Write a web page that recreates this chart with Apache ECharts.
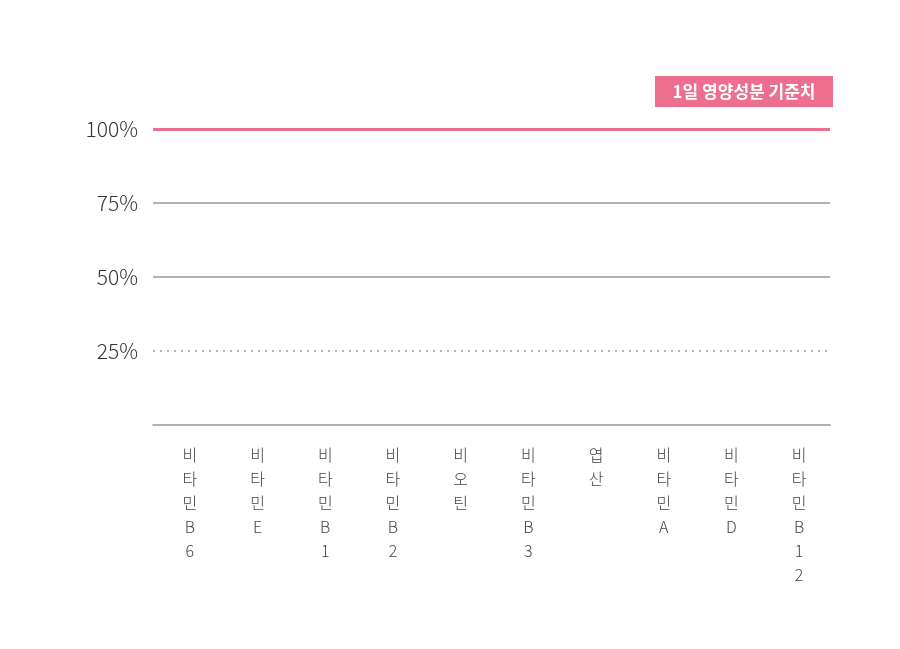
<!DOCTYPE html>
<html><head><meta charset="utf-8">
<script src="https://cdn.jsdelivr.net/npm/echarts@6/dist/echarts.min.js"></script>
<style>html,body{margin:0;background:#fff}#c{width:900px;height:649px}</style>
</head><body><div id="c"></div>
<script>
const categories = ['비타민B6','비타민E','비타민B1','비타민B2','비오틴','비타민B3','엽산','비타민A','비타민D','비타민B12'];
const values = [0,0,0,0,0,0,0,0,0,0];
const yTicks = [25,50,75,100];
const refLabel = '1일 영양성분 기준치';
const F = '"Noto Sans CJK KR","Noto Sans",sans-serif';
const chart = echarts.init(document.getElementById('c'));
chart.setOption({
  animation:false,
  grid:{left:153,right:70,top:129,bottom:224},
  xAxis:{type:'category',data:categories,
    axisLine:{lineStyle:{color:'#999',width:1.5}},axisTick:{show:false},
    axisLabel:{interval:0,margin:18,color:'#444',fontFamily:F,fontSize:16,fontWeight:300,lineHeight:24,padding:[0,0,0,6],
      formatter:v=>v.split('').join('\n')}},
  yAxis:{type:'value',min:0,max:100,interval:25,splitLine:{show:false},axisLine:{show:false},axisTick:{show:false},
    axisLabel:{margin:15,color:'#333',fontFamily:F,fontSize:21,fontWeight:300,formatter:v=>v===0?'':v+'%'}},
  series:[{type:'bar',data:values,itemStyle:{color:'#ee6e8f'},
    markLine:{silent:true,symbol:'none',label:{show:false},
      data:yTicks.map(t=>({yAxis:t,lineStyle:t===100?{color:'#ee6e8f',width:3,type:'solid'}:
        t===25?{color:'#999',width:1.5,type:[2,5]}:{color:'#999',width:1.5,type:'solid'}}))}}],
  graphic:[{type:'rect',shape:{x:655,y:76,width:178,height:31},style:{fill:'#ee6e8f'}},
    {type:'text',x:744,y:91.5,style:{text:refLabel,fill:'#fff',font:'bold 17px '+F,align:'center',verticalAlign:'middle'}}]
});
</script></body></html>
